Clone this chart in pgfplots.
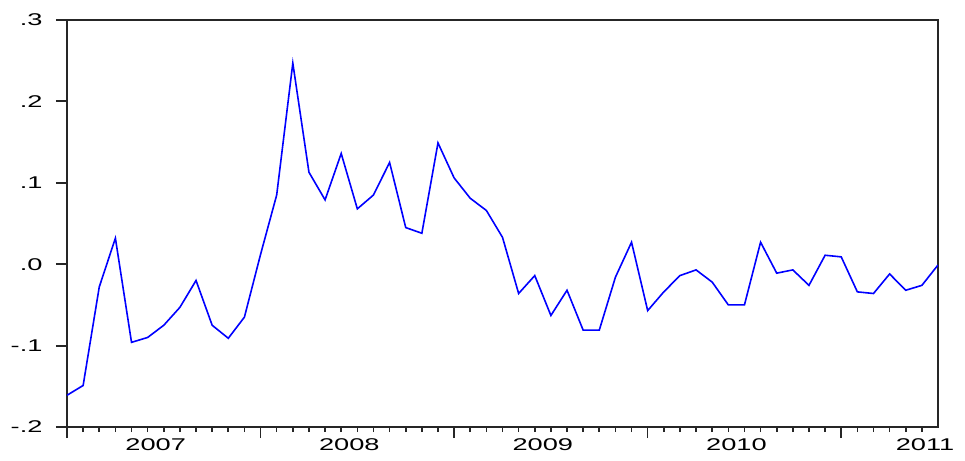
\documentclass[border=0pt]{standalone}
\usepackage{pgfplots}
\pgfplotsset{compat=1.18}
\usepackage{fontspec}
\setmainfont{Liberation Sans}
\newfontfamily\wide[FakeStretch=1.6]{Liberation Sans}
\begin{document}
\begin{tikzpicture}
\begin{axis}[
  scale only axis, width=871pt, height=407pt,
  xmin=0, xmax=54, ymin=-0.2, ymax=0.3,
  axis line style={line width=2pt, black!85},
  ytick={-0.2,-0.1,0,0.1,0.2,0.3},
  yticklabels={-.2,-.1,.0,.1,.2,.3},
  ytick pos=left, ytick style={line width=2pt, black!85},
  major tick length=11pt,
  y tick label style={font=\wide\fontsize{17}{17}\selectfont, xshift=-10pt},
  tick align=outside,
  xtick={0,12,24,36,48}, xticklabels={},
  xtick pos=bottom,
  minor xtick={1,...,53},
  minor tick length=5pt,
  x tick style={line width=1.6pt, black!85},
  extra x ticks={5.5,17.5,29.5,41.5,53.2},
  extra x tick labels={2007,2008,2009,2010,2011},
  extra x tick style={major tick length=0pt, tick label style={font=\wide\fontsize{17}{17}\selectfont, yshift=-8pt}},
]
\coordinate (bl) at (rel axis cs:0,0);
\coordinate (tr) at (rel axis cs:1,1);
\addplot[blue, line width=1.6pt] coordinates {
(0,-0.161)(1,-0.149)(2,-0.028)(3,0.032)(4,-0.096)(5,-0.090)(6,-0.075)(7,-0.053)
(8,-0.020)(9,-0.075)(10,-0.091)(11,-0.065)(12,0.012)(13,0.085)(14,0.247)(15,0.113)
(16,0.079)(17,0.136)(18,0.068)(19,0.085)(20,0.125)(21,0.045)(22,0.038)(23,0.149)
(24,0.106)(25,0.081)(26,0.066)(27,0.033)(28,-0.036)(29,-0.014)(30,-0.063)(31,-0.032)
(32,-0.081)(33,-0.081)(34,-0.016)(35,0.027)(36,-0.057)(37,-0.034)(38,-0.014)(39,-0.007)
(40,-0.022)(41,-0.050)(42,-0.050)(43,0.027)(44,-0.011)(45,-0.007)(46,-0.026)(47,0.011)
(48,0.009)(49,-0.034)(50,-0.036)(51,-0.012)(52,-0.032)(53,-0.026)(54,-0.001)};
\end{axis}
\path ([shift={(-67pt,-33pt)}]bl) rectangle ([shift={(27pt,20pt)}]tr);
\end{tikzpicture}
\end{document}
